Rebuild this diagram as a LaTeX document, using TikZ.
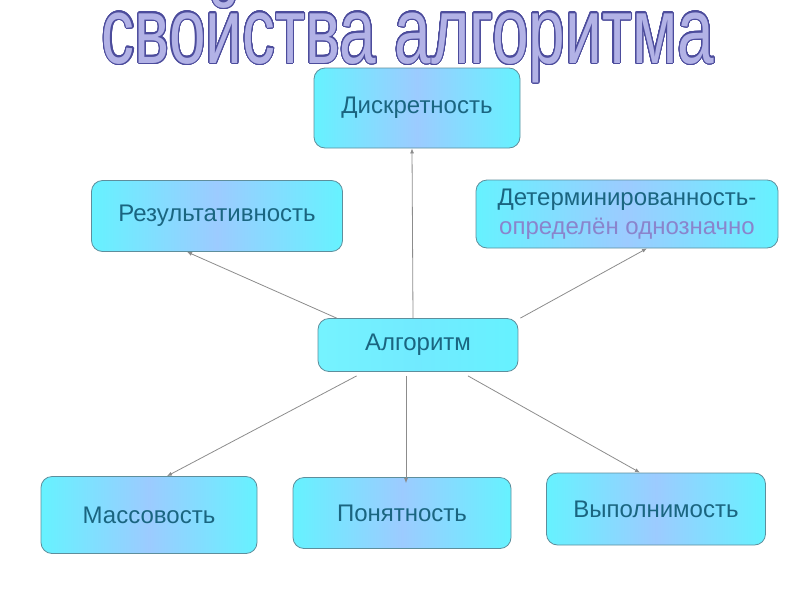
\documentclass[tikz,border=0pt]{standalone}
\usepackage{fontspec}
\setmainfont{Liberation Sans}
\usepackage{tikz}
\usetikzlibrary{arrows.meta}
\usepackage[copies]{contour}
\contourlength{1.1pt}
\contournumber{32}

\definecolor{boxcyan}{HTML}{66F2FF}
\definecolor{boxblue}{HTML}{9CCBFF}
\definecolor{boxline}{HTML}{5E8E9C}
\definecolor{boxtext}{HTML}{1A6580}
\definecolor{subtext}{HTML}{8A84CC}
\definecolor{titlefill}{HTML}{B2B2E6}
\definecolor{titleline}{HTML}{4C4C9C}
\definecolor{linkgray}{HTML}{8C8C8C}

\begin{document}
\begin{tikzpicture}[x=1pt,y=-1pt]
        \tikzset{PropBox/.style={draw=boxline, line width=0.8pt, rounded corners=11pt,
            left color=boxcyan, right color=boxcyan, middle color=boxblue,
            text=boxtext, font=\fontsize{24}{29}\selectfont, align=center},
            Link/.style={draw=linkgray, line width=0.8pt, -{Latex[length=5pt,width=4pt]}}}
        \useasboundingbox (0,0) rectangle (800,600);
        % title
        \node[anchor=base] (title) at (408,63) {\fontsize{94}{94}\selectfont
            \contour{titleline}{\scalebox{0.7}[1]{\textcolor{titlefill}{свойства алгоритма}}}};
        % boxes
        \node[PropBox, minimum width=206pt, minimum height=80pt] (disk) at (417,108) {Дискретность};
        \node[PropBox, minimum width=251pt, minimum height=71pt] (res) at (217,216) {Результативность};
        \node[PropBox, minimum width=302pt, minimum height=68pt] (det) at (627,214)
            {Детерминированность-\\\textcolor{subtext}{определён однозначно}};
        \node[PropBox, left color=boxcyan!90, middle color=boxcyan!80!boxblue,
            minimum width=200pt, minimum height=53pt] (alg) at (418,345) {Алгоритм};
        \node[PropBox, minimum width=216pt, minimum height=77pt] (mass) at (149,515) {Массовость};
        \node[PropBox, minimum width=218pt, minimum height=71pt] (pon) at (402,513) {Понятность};
        \node[PropBox, minimum width=219pt, minimum height=72pt] (vyp) at (656,509) {Выполнимость};
        % links
        \draw[Link] ([xshift=-5pt]alg.north) -- ([xshift=-5pt]disk.south);
        \draw[Link] ([xshift=19pt]alg.north west) -- ([xshift=-30pt]res.south);
        \draw[Link] ([xshift=2pt]alg.north east) -- ([xshift=20pt]det.south);
        \draw[Link] ([xshift=39pt,yshift=-4pt]alg.south west) -- ([xshift=18pt]mass.north);
        \draw[Link] ([xshift=-12pt,yshift=-4pt]alg.south) -- ([yshift=-6pt,xshift=4pt]pon.north);
        \draw[Link] ([xshift=50pt,yshift=-4pt]alg.south) -- ([xshift=-16pt]vyp.north);
\end{tikzpicture}
\end{document}
